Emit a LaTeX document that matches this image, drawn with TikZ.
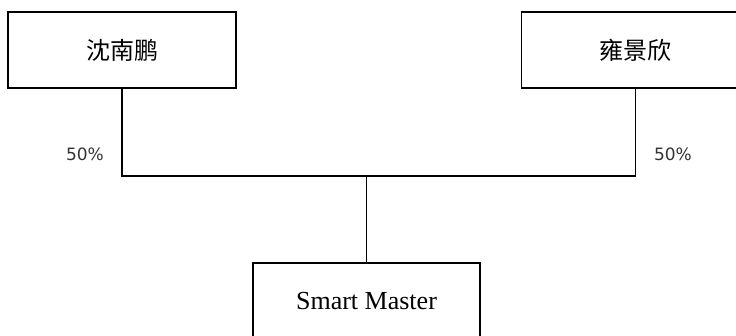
\documentclass[tikz,border=0pt]{standalone}
\usepackage{fontspec}
\setmainfont{Liberation Serif}
\newfontfamily\cjkfont{Noto Sans CJK SC}
\newfontfamily\pctfont{DejaVu Sans}
\usetikzlibrary{positioning}

\begin{document}
\begin{tikzpicture}[x=1pt, y=1pt, line width=1.3pt,
	ownerbox/.style={draw, minimum width=228pt, minimum height=76pt, inner sep=0pt,
		font=\cjkfont\fontsize{24}{28}\selectfont},
	companybox/.style={draw, minimum width=227pt, minimum height=76pt, inner sep=0pt,
		font=\fontsize{26}{30}\selectfont},
	share/.style={font=\pctfont\fontsize{17}{20}\selectfont, text=black!80}]
\clip (0,0) rectangle (736,335);
% nodes
\node [ownerbox] (shen) at (122,285) {沈南鹏};
\node [ownerbox, right=284pt of shen] (yong) {雍景欣};
\node [companybox] (smart) at (366.5,34) {Smart Master};
\coordinate (join) at (smart.north |- 0,159);
% lines
\draw (shen.south) -- (shen.south |- join) -- (yong.south |- join) -- (yong.south);
\draw (join) -- (smart.north);
% labels
\node [share] (pshen) at (85,181) {50\%};
\node [share] (pyong) at (673,181) {50\%};
\end{tikzpicture}
\end{document}
